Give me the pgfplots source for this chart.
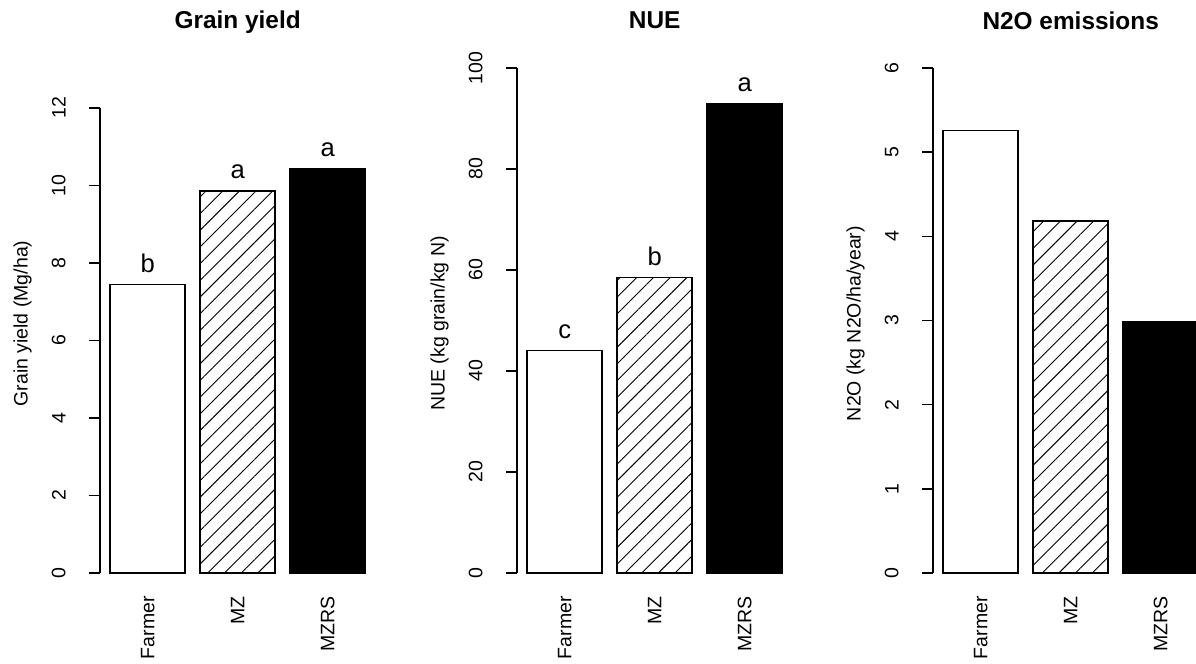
\documentclass[border=0pt]{standalone}
\usepackage{fontspec}
\setmainfont{Liberation Sans}
\usepackage{pgfplots}
\pgfplotsset{compat=1.18}
\usetikzlibrary{patterns.meta}

\newcommand{\axfont}{\fontsize{9.75}{11}\selectfont}
\newcommand{\letfont}{\fontsize{12.8}{14}\selectfont}

\pgfplotsset{
  rpanel/.style={
    scale only axis, width=137.7pt, height=252.5pt,
    xmin=0.064, xmax=3.736, ymin=0,
    axis line style={draw=none},
    clip=false,
    xtick={0.7,1.9,3.1}, xticklabels={Farmer,MZ,MZRS},
    x tick style={draw=none},
    xticklabel style={rotate=90, anchor=east, inner sep=0pt, font=\axfont, xshift=-6pt},
    ytick pos=left,
    tick align=outside, major tick length=5.5pt,
    y tick style={line width=0.75pt, black},
    yticklabel style={rotate=90, anchor=south, inner sep=0pt, font=\axfont, yshift=11.5pt},
    /pgf/number format/assume math mode=true,
    ylabel style={at={(axis description cs:0,0.494)}, anchor=center, yshift=38.75pt, font=\axfont},
    title style={at={(axis description cs:0.5,1)}, anchor=base, yshift=13.5pt, font=\fontsize{12.2}{14}\selectfont\bfseries},
    ybar, bar width=1, bar shift=0,
  },
  farmer/.style={fill=white, draw=black, line width=0.75pt},
  mz/.style={pattern={Lines[angle=45,distance=5.9pt,line width=0.45pt]}, draw=black, line width=0.75pt},
  mzrs/.style={fill=black, draw=black, line width=0.75pt},
}

\begin{document}
\begin{tikzpicture}
\path[use as bounding box] (0,0) rectangle (598pt,332pt);
\clip (0,0) rectangle (598pt,332pt);

% Panel 1: Grain yield
\begin{axis}[rpanel, at={(50pt,45.5pt)}, anchor=south west,
  ymax=13.03, ytick={0,2,4,6,8,10,12},
  title={Grain yield}, ylabel={Grain yield (Mg/ha)}]
\addplot[farmer] coordinates {(0.7,7.44)};
\addplot[mz] coordinates {(1.9,9.86)};
\addplot[mzrs] coordinates {(3.1,10.43)};
\draw[line width=0.75pt] (axis cs:0.064,0) -- (axis cs:0.064,12);
\node[anchor=base, font=\letfont, inner sep=0pt, yshift=6pt] at (axis cs:0.7,7.44) {b};
\node[anchor=base, font=\letfont, inner sep=0pt, yshift=6pt] at (axis cs:1.9,9.86) {a};
\node[anchor=base, font=\letfont, inner sep=0pt, yshift=6pt] at (axis cs:3.1,10.43) {a};
\end{axis}

% Panel 2: NUE
\begin{axis}[rpanel, at={(258.5pt,45.5pt)}, anchor=south west,
  ymax=100, ytick={0,20,40,60,80,100},
  title={NUE}, ylabel={NUE (kg grain/kg N)}]
\addplot[farmer] coordinates {(0.7,44.1)};
\addplot[mz] coordinates {(1.9,58.5)};
\addplot[mzrs] coordinates {(3.1,93.0)};
\draw[line width=0.75pt] (axis cs:0.064,0) -- (axis cs:0.064,100);
\node[anchor=base, font=\letfont, inner sep=0pt, yshift=6pt] at (axis cs:0.7,44.1) {c};
\node[anchor=base, font=\letfont, inner sep=0pt, yshift=6pt] at (axis cs:1.9,58.5) {b};
\node[anchor=base, font=\letfont, inner sep=0pt, yshift=6pt] at (axis cs:3.1,93.0) {a};
\end{axis}

% Panel 3: N2O emissions
\begin{axis}[rpanel, at={(466.5pt,45.5pt)}, anchor=south west,
  ymax=6, ytick={0,1,2,3,4,5,6},
  title={N2O emissions}, ylabel={N2O (kg N2O/ha/year)}]
\addplot[farmer] coordinates {(0.7,5.255)};
\addplot[mz] coordinates {(1.9,4.18)};
\addplot[mzrs] coordinates {(3.1,2.98)};
\draw[line width=0.75pt] (axis cs:0.064,0) -- (axis cs:0.064,6);
\end{axis}
\end{tikzpicture}
\end{document}
